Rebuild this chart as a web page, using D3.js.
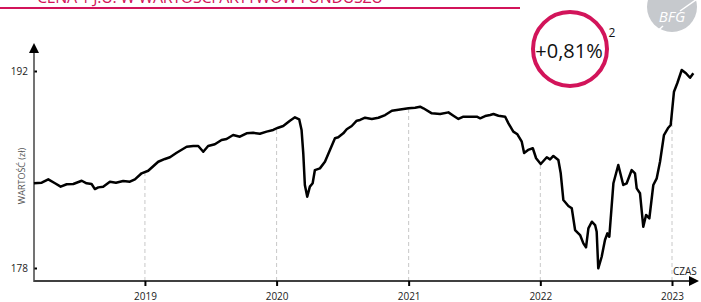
<!DOCTYPE html>
<html>
<head>
<meta charset="utf-8">
<script src="https://cdn.jsdelivr.net/npm/d3@7"></script>
<style>
  body { margin: 0; background: #fff; }
  svg { display: block; font-family: "Open Sans", sans-serif; }
</style>
</head>
<body>
<script>
// time as decimal years, value in zl
let times = [2018.157,2018.216,2018.266,2018.317,2018.360,2018.406,2018.456,2018.520,2018.557,2018.595,
  2018.620,2018.646,2018.683,2018.734,2018.780,2018.835,2018.886,2018.924,2018.975,2019.025,
  2019.101,2019.152,2019.190,2019.241,2019.317,2019.367,2019.405,2019.443,2019.480,2019.531,
  2019.582,2019.620,2019.670,2019.721,2019.772,2019.822,2019.873,2019.924,2019.974,2020.012,
  2020.050,2020.101,2020.139,2020.171,2020.189,2020.202,2020.214,2020.232,2020.252,2020.273,
  2020.290,2020.328,2020.366,2020.404,2020.442,2020.467,2020.505,2020.531,2020.569,2020.607,
  2020.632,2020.670,2020.721,2020.771,2020.822,2020.873,2020.923,2020.999,2021.049,2021.087,
  2021.112,2021.176,2021.239,2021.302,2021.340,2021.378,2021.416,2021.467,2021.518,2021.543,
  2021.581,2021.619,2021.644,2021.682,2021.733,2021.758,2021.795,2021.826,2021.859,2021.877,
  2021.907,2021.943,2021.968,2022.003,2022.049,2022.074,2022.099,2022.137,2022.155,2022.175,
  2022.213,2022.239,2022.264,2022.302,2022.327,2022.347,2022.365,2022.391,2022.416,2022.428,
  2022.440,2022.466,2022.491,2022.509,2022.524,2022.555,2022.592,2022.630,2022.656,2022.694,
  2022.719,2022.732,2022.757,2022.782,2022.803,2022.828,2022.858,2022.884,2022.909,2022.939,
  2022.972,2022.990,2023.015,2023.040,2023.074,2023.106,2023.137,2023.162];
let values = [184.02,184.06,184.30,184.02,183.78,183.95,183.97,184.20,184.02,183.97,
  183.61,183.73,183.78,184.13,184.06,184.18,184.13,184.30,184.73,184.91,
  185.55,185.75,185.87,186.19,186.62,186.67,186.67,186.26,186.67,186.79,
  187.10,187.17,187.45,187.33,187.57,187.61,187.54,187.69,187.81,187.97,
  188.09,188.47,188.71,188.57,187.81,186.15,183.90,183.07,183.78,184.02,
  184.96,185.08,185.55,186.39,187.22,187.29,187.57,187.86,188.09,188.47,
  188.52,188.68,188.59,188.68,188.87,189.18,189.25,189.35,189.39,189.46,
  189.35,188.99,188.94,189.06,188.82,188.59,188.75,188.75,188.75,188.64,
  188.80,188.87,188.94,188.82,188.75,188.28,187.69,187.50,186.98,186.17,
  186.39,186.51,185.80,185.39,185.87,185.72,185.96,185.67,184.73,182.83,
  182.41,182.24,180.70,180.34,179.75,179.47,180.82,181.29,181.05,180.58,
  177.98,178.80,179.99,180.46,180.22,184.02,185.32,183.90,184.02,184.96,
  184.73,183.66,183.31,180.93,181.77,181.53,183.90,184.37,185.55,187.45,
  187.97,188.16,190.53,191.13,192.07,191.84,191.52,191.84];
let yearTicks = [2019, 2020, 2021, 2022, 2023];
let yTicks = [178, 192];
let changeLabel = "+0,81%";

let width = 701, height = 302;
let pink = "#d2145a";

function toDate(t) {
  let y = Math.floor(t);
  let a = new Date(y, 0, 1), b = new Date(y + 1, 0, 1);
  return new Date(+a + (t - y) * (b - a));
}
let data = times.map((t, i) => ({date: toDate(t), value: values[i]}));

let x = d3.scaleTime()
          .domain([new Date(2018, 0, 1), new Date(2023, 0, 1)])
          .range([13.25, 672]);
let y = d3.scaleLinear()
          .domain([178, 192])
          .range([268, 71]);

let svg = d3.select("body").append("svg")
            .attr("width", width)
            .attr("height", height);

// title (cut off at top) and rule
svg.append("text")
   .attr("x", 37).attr("y", 3)
   .attr("fill", pink)
   .attr("font-size", 16)
   .attr("textLength", 346)
   .text("CENA 1 J.U. W WARTOŚCI AKTYWÓW FUNDUSZU");
svg.append("line")
   .attr("x1", 0).attr("x2", 520)
   .attr("y1", 8).attr("y2", 8)
   .attr("stroke", pink).attr("stroke-width", 2);

// BFG logo
let logo = svg.append("g");
logo.append("circle").attr("cx", 672).attr("cy", 7).attr("r", 25).attr("fill", "#c6c9cd");
logo.append("line").attr("x1", 700).attr("y1", -3).attr("x2", 680).attr("y2", 11)
    .attr("stroke", "#fff").attr("stroke-width", 1.5);
logo.append("line").attr("x1", 663).attr("y1", 26).attr("x2", 650).attr("y2", 38)
    .attr("stroke", "#fff").attr("stroke-width", 1.5);
logo.append("text").attr("x", 672).attr("y", 22)
    .attr("text-anchor", "middle").attr("fill", "#fff")
    .attr("font-size", 15).attr("font-style", "italic")
    .text("BFG");

// dashed year lines up to the series
let bisect = d3.bisector(d => d.date).left;
function valueAt(date) {
  let i = bisect(data, date);
  if (i <= 0) return data[0].value;
  if (i >= data.length) return data[data.length - 1].value;
  let a = data[i - 1], b = data[i];
  let k = (date - a.date) / (b.date - a.date);
  return a.value + k * (b.value - a.value);
}
svg.selectAll(".grid")
   .data(yearTicks)
   .enter().append("line")
   .attr("class", "grid")
   .attr("x1", d => x(new Date(d, 0, 1)))
   .attr("x2", d => x(new Date(d, 0, 1)))
   .attr("y1", 281)
   .attr("y2", d => y(valueAt(new Date(d, 0, 1))))
   .attr("stroke", "#c8c8c8")
   .attr("stroke-width", 1)
   .attr("stroke-dasharray", "4,3");

// x axis
let xAxis = svg.append("g")
   .attr("transform", "translate(0,281)")
   .call(d3.axisBottom(x)
           .tickValues(yearTicks.map(d => new Date(d, 0, 1)))
           .tickFormat(d3.timeFormat("%Y"))
           .tickSize(5));
xAxis.select(".domain").remove();
xAxis.selectAll(".tick line").attr("stroke", "#000").attr("stroke-width", 2);
xAxis.selectAll(".tick text")
     .attr("y", 12)
     .attr("font-size", 10)
     .attr("font-family", "Open Sans, sans-serif")
     .attr("fill", "#222");
svg.append("line")
   .attr("x1", 34).attr("x2", 690)
   .attr("y1", 281).attr("y2", 281)
   .attr("stroke", "#000").attr("stroke-width", 1.5);
svg.append("path")
   .attr("d", "M689,276L699,281L689,286Z")
   .attr("fill", "#000");
svg.append("text")
   .attr("x", 673).attr("y", 275)
   .attr("font-size", 10).attr("fill", "#222")
   .text("CZAS");

// y axis
let yAxis = svg.append("g")
   .attr("transform", "translate(34,0)")
   .call(d3.axisLeft(y).tickValues(yTicks).tickSize(-3).tickPadding(6));
yAxis.select(".domain").remove();
yAxis.selectAll(".tick line").attr("stroke", "#000").attr("stroke-width", 2);
yAxis.selectAll(".tick text")
     .attr("font-size", 10)
     .attr("font-family", "Open Sans, sans-serif")
     .attr("fill", "#222");
svg.append("line")
   .attr("x1", 34).attr("x2", 34)
   .attr("y1", 282).attr("y2", 52)
   .attr("stroke", "#444").attr("stroke-width", 1.5);
svg.append("path")
   .attr("d", "M29,53L34,43L39,53Z")
   .attr("fill", "#000");
svg.append("text")
   .attr("transform", "translate(25,176) rotate(-90)")
   .attr("text-anchor", "middle")
   .attr("font-size", 9).attr("fill", "#555")
   .text("WARTOŚĆ (zł)");

// series
svg.append("path")
   .datum(data)
   .attr("fill", "none")
   .attr("stroke", "#000")
   .attr("stroke-width", 2.5)
   .attr("stroke-linejoin", "round")
   .attr("d", d3.line().x(d => x(d.date)).y(d => y(d.value)));

// change badge
svg.append("circle")
   .attr("cx", 570).attr("cy", 49).attr("r", 37)
   .attr("fill", "#fff")
   .attr("stroke", pink).attr("stroke-width", 4);
svg.append("text")
   .attr("x", 569).attr("y", 58)
   .attr("text-anchor", "middle")
   .attr("font-size", 20).attr("fill", "#111")
   .text(changeLabel);
svg.append("text")
   .attr("x", 612).attr("y", 37)
   .attr("text-anchor", "middle")
   .attr("font-size", 12).attr("fill", "#111")
   .text("2");
</script>
</body>
</html>
